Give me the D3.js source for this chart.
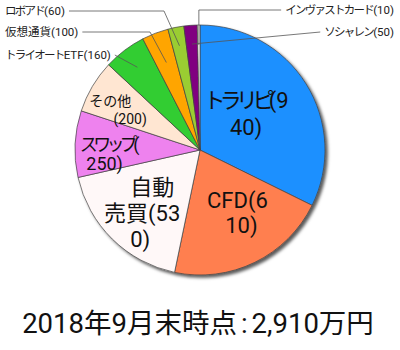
<!DOCTYPE html>
<html>
<head>
<meta charset="utf-8">
<script src="https://cdn.jsdelivr.net/npm/d3@7"></script>
<style>
  html, body { margin: 0; padding: 0; background: #fff; }
  svg text { font-family: Roboto, "Noto Sans CJK JP", sans-serif; }
</style>
</head>
<body>
<svg id="chart" width="400" height="350"></svg>
<script>
// Portfolio breakdown (万円)
const categories = ["トラリピ", "CFD", "自動売買", "スワップ", "その他", "トライオートETF", "仮想通貨", "ロボアド", "ソシャレン", "インヴァストカード"];
const values = [940, 610, 530, 250, 200, 160, 100, 60, 50, 10];
const colors = ["#1e90ff", "#ff7f50", "#fff8f8", "#ee82ee", "#ffe6d2", "#32cd32", "#ffa500", "#9acd32", "#800080", "#fffff8"];
const titleParts = ["2018年9月末時点", ":", "2,910万円"];

const data = categories.map((c, i) => ({ name: c, value: values[i], color: colors[i] }));

const svg = d3.select("#chart");
const cx = 200, cy = 150, radius = 125;

const defs = svg.append("defs");
const shadow = defs.append("filter").attr("id", "shadow")
  .attr("x", "-10%").attr("y", "-10%").attr("width", "130%").attr("height", "130%");
shadow.append("feDropShadow")
  .attr("dx", 2.5).attr("dy", 2.5).attr("stdDeviation", 1.6)
  .attr("flood-color", "#000").attr("flood-opacity", 0.65);

const pie = d3.pie().value(d => d.value).sort(null);
const arcs = pie(data);
const arc = d3.arc().innerRadius(0).outerRadius(radius);

const g = svg.append("g").attr("transform", `translate(${cx},${cy})`);

g.append("g").attr("filter", "url(#shadow)")
  .selectAll("path").data(arcs).join("path")
  .attr("d", arc)
  .attr("fill", d => d.data.color)
  .attr("stroke", "#444")
  .attr("stroke-width", 0.7);

// Katakana set tighter (proportional kana spacing)
const kana = /[\u30A0-\u30FF]+/g;
function fillText(sel, str, kanaSpacing) {
  let last = 0, m;
  kana.lastIndex = 0;
  while ((m = kana.exec(str)) !== null) {
    if (m.index > last) sel.append("tspan").text(str.slice(last, m.index));
    sel.append("tspan").attr("letter-spacing", kanaSpacing).text(m[0]);
    last = m.index + m[0].length;
  }
  if (last < str.length) sel.append("tspan").text(str.slice(last));
}

// In-slice labels: text split into lines, placed relative to the arc centroid
const inner = {
  "トラリピ":  { size: 22, lh: 27, split: [6], dx: -7, dy: -4, shift: [0, 0] },
  "CFD":      { size: 22, lh: 25, split: [5], dx: 12, dy: 6, shift: [-2, 2] },
  "自動売買":  { size: 22, lh: 26, split: [2, 7], dx: -11, dy: 18, shift: [7, -3, -5] },
  "スワップ":  { size: 18, lh: 19, split: [5], dx: -30, dy: 7, shift: [2, -3] },
  "その他":    { size: 14, lh: 18, split: [3], dx: -26, dy: -8, shift: [-10, 10] }
};

arcs.forEach(a => {
  const cfg = inner[a.data.name];
  if (!cfg) return;
  const label = `${a.data.name}(${a.data.value})`;
  const cuts = [0, ...cfg.split, label.length];
  const lines = cuts.slice(0, -1).map((s, i) => label.slice(s, cuts[i + 1]));
  const [x0, y0] = arc.centroid(a);
  const bx = x0 + cfg.dx, by = y0 + cfg.dy;
  const top = by - (lines.length - 1) * cfg.lh / 2;
  lines.forEach((ln, i) => {
    const t = g.append("text")
      .attr("x", bx + (cfg.shift[i] || 0)).attr("y", top + i * cfg.lh)
      .attr("text-anchor", "middle")
      .attr("dominant-baseline", "central")
      .attr("font-size", cfg.size)
      .attr("fill", "#111");
    fillText(t, ln, "-0.26em");
  });
});

// Outside labels with leader lines for the thin slices
const outer = {
  "トライオートETF":   { side: "left",  y: 55, r: 0.83, elbow: null },
  "仮想通貨":         { side: "left",  y: 32, r: 0.75, elbow: 150 },
  "ロボアド":         { side: "left",  y: 11, r: 0.85, elbow: 164 },
  "ソシャレン":       { side: "right", y: 32, r: 0.85, elbow: null },
  "インヴァストカード": { side: "right", y: 10, r: 0.84, elbow: -4 }
};

const polar = (ang, r) => [Math.sin(ang) * r, -Math.cos(ang) * r];

arcs.forEach(a => {
  const cfg = outer[a.data.name];
  if (!cfg) return;
  const mid = (a.startAngle + a.endAngle) / 2;
  const [ax, ay] = polar(mid, radius * cfg.r);
  const label = `${a.data.name}(${a.data.value})`;
  const ly = cfg.y - cy;
  const tx = cfg.side === "left" ? 5 - cx : 394 - cx;
  const t = g.append("text")
    .attr("x", tx).attr("y", ly)
    .attr("text-anchor", cfg.side === "left" ? "start" : "end")
    .attr("dominant-baseline", "central")
    .attr("font-size", 11.5)
    .attr("fill", "#222");
  fillText(t, label, "-0.15em");
  const bb = t.node().getBBox();
  const startX = cfg.side === "left" ? bb.x + bb.width + 4 : bb.x - 4;
  const pts = [[startX, ly]];
  if (cfg.elbow !== null) {
    const ex = cfg.elbow < 0 ? ax + cfg.elbow + 4 : cfg.elbow - cx;
    pts.push([ex, ly]);
    pts.push([cfg.elbow < 0 ? ex : ax, ay]);
  } else {
    pts.push([ax, ay]);
  }
  g.append("path")
    .attr("d", d3.line()(pts))
    .attr("fill", "none")
    .attr("stroke", "#555")
    .attr("stroke-width", 0.8);
});

// Caption below the pie
const title = svg.append("text")
  .attr("x", 198).attr("y", 323)
  .attr("text-anchor", "middle")
  .attr("dominant-baseline", "central")
  .attr("font-size", 27.5)
  .attr("fill", "#111");
title.append("tspan").text(titleParts[0]);
title.append("tspan").attr("dx", 4).text(titleParts[1]);
title.append("tspan").attr("dx", 4).text(titleParts[2]);
</script>
</body>
</html>
